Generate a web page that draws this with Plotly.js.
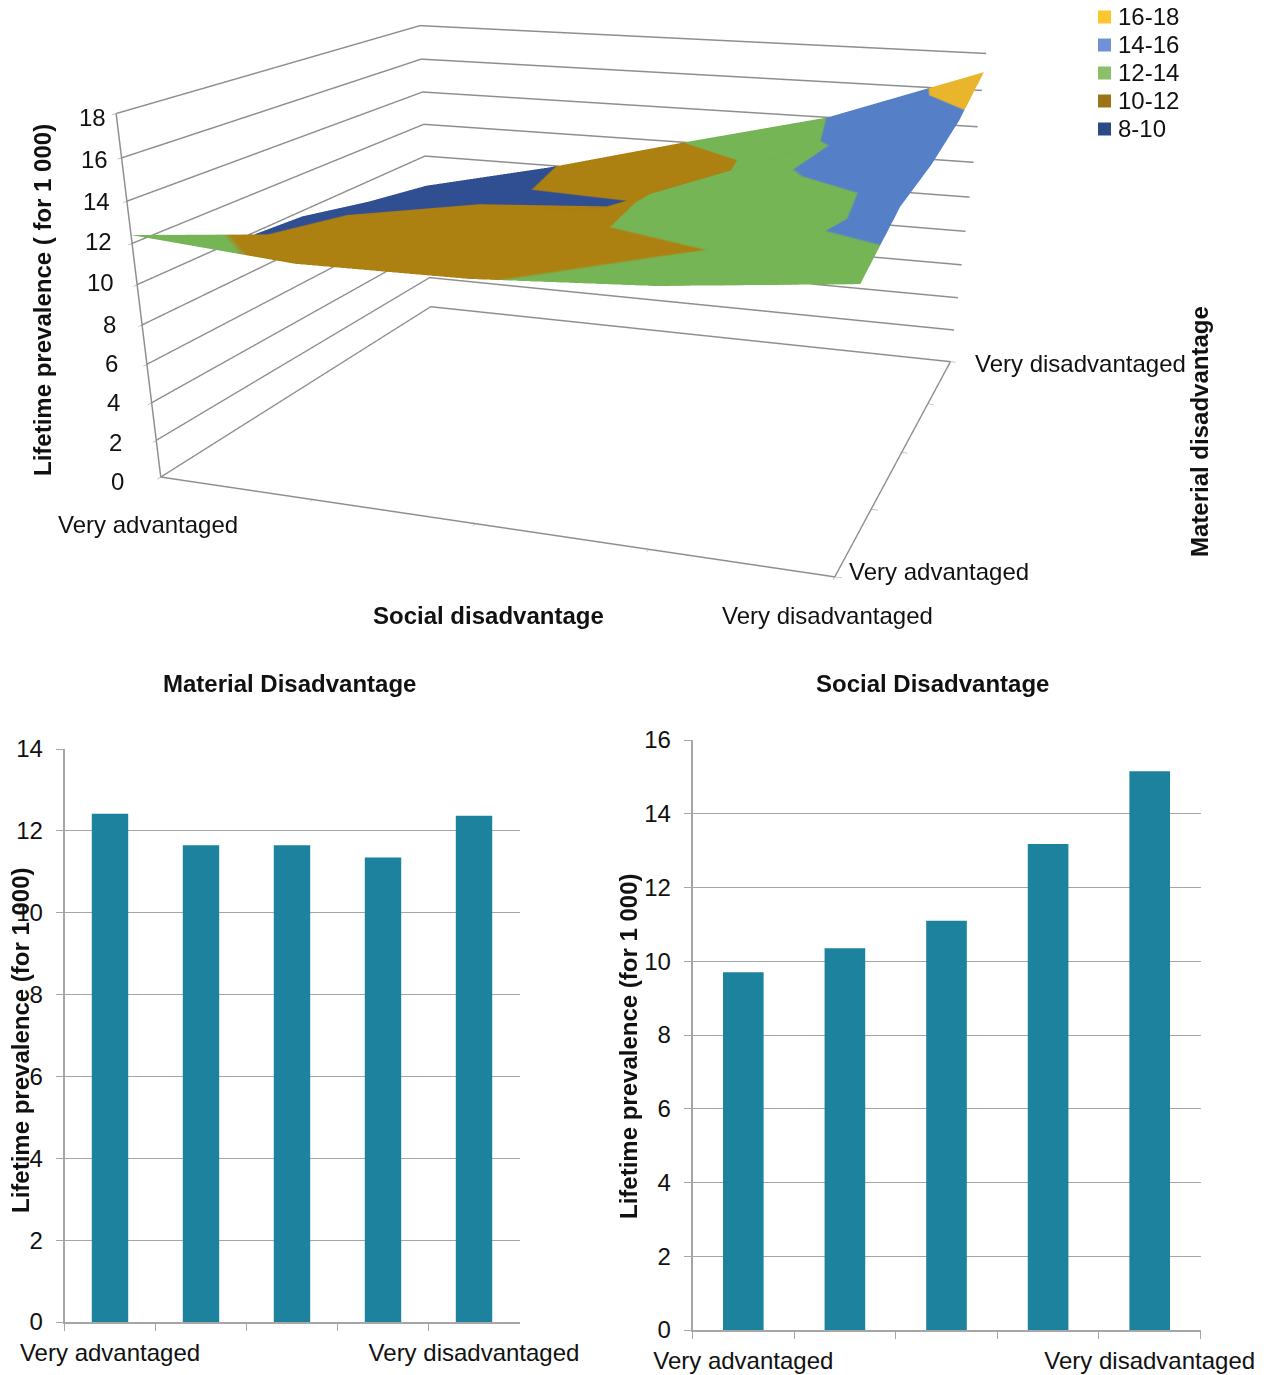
<!DOCTYPE html>
<html><head><meta charset="utf-8">
<script src="https://cdn.plot.ly/plotly-3.0.1.min.js"></script>
<style>html,body{margin:0;padding:0;background:#fff}</style></head>
<body><div id="chart" style="width:1267px;height:1375px"></div>
<script>
const W=1267,H=1375;
const FONT='"Liberation Sans", Arial, sans-serif';
const GRAY='#a6a6a6', GRAY3D='#8e8e8e', INK='#111111', TEAL='#1c829e';
const socialIdx=[0,1,2,3,4];
const materialIdx=[0,1,2,3,4];
const row0=[12.4,11.8,11.9,12.4,13.3];
const row1=[10.0,11.3,11.2,12.0,14.7];
const row2=[9.7,10.6,11.4,13.6,15.0];
const row3=[8.8,9.6,9.9,13.5,15.7];
const row4=[8.1,9.9,12.0,14.0,17.0];
const grid=[row0,row1,row2,row3,row4];
const bandLabels=['16-18','14-16','12-14','10-12','8-10'];
const bandColors=['#e8b52c','#5580c8','#76b555','#ad8012','#304e92'];
const legendColors=['#fcc72e','#6f92d6','#8cc068','#9c7418','#2b4a85'];
const barCats=['a','b','c','d','e'];
const barTickText=['Very advantaged','','','','Very disadvantaged'];
const materialVals=[12.42,11.65,11.65,11.35,12.37];
const socialVals=[9.7,10.35,11.1,13.18,15.15];
const zTicks=[0,2,4,6,8,10,12,14,16,18];

const px=(a,b)=>[a/W,b/W];
const py=(top,bottom)=>[1-bottom/H,1-top/H];
const cs=[];
[4,3,2,1,0].forEach((b,i)=>{cs.push([i/5,bandColors[b]]);cs.push([(i+1)/5,bandColors[b]]);});

const mx=[],my=[],mz=[],ti=[],tj=[],tk=[];
materialIdx.forEach((m,r)=>socialIdx.forEach((s,c)=>{mx.push(s);my.push(m);mz.push(grid[r][c]);}));
for(let r=0;r<4;r++)for(let c=0;c<4;c++){
  const a=r*5+c,b=a+1,d=a+5,e=d+1;
  ti.push(a,a);tj.push(b,e);tk.push(e,d);
}
const surf={type:'mesh3d',x:mx,y:my,z:mz,i:ti,j:tj,k:tk,intensity:mz,cmin:8,cmax:18,colorscale:cs,showscale:false,hoverinfo:'skip',
 flatshading:true,
 lighting:{ambient:0.62,diffuse:0.5,specular:0,roughness:1,fresnel:0,facenormalsepsilon:0},
 lightposition:{x:-2000,y:-1200,z:1500},scene:'scene'};
const bar1={type:'bar',x:barCats,y:materialVals,xaxis:'x',yaxis:'y',marker:{color:TEAL},hoverinfo:'skip'};
const bar2={type:'bar',x:barCats,y:socialVals,xaxis:'x2',yaxis:'y2',marker:{color:TEAL},hoverinfo:'skip'};

function catAxis(dom,anchor){return {domain:dom,anchor,type:'category',categoryorder:'array',categoryarray:barCats,
 tickmode:'array',tickvals:barCats,ticktext:barTickText,tickson:'boundaries',ticks:'outside',ticklen:7,tickcolor:GRAY,ticklabelstandoff:8,
 showgrid:false,showline:true,linecolor:GRAY,linewidth:1.5,tickfont:{family:FONT,size:24,color:INK},tickangle:0,automargin:false,fixedrange:true};}
function valAxis(dom,anchor,max,dt){return {domain:dom,anchor,range:[0,max],dtick:dt,ticks:'outside',ticklen:7,tickcolor:GRAY,ticklabelstandoff:8,
 showgrid:true,gridcolor:GRAY,gridwidth:1.2,showline:true,linecolor:GRAY,linewidth:1.5,zeroline:false,
 tickfont:{family:FONT,size:24,color:INK},automargin:false,fixedrange:true};}

const ann=(x,y,text,o={})=>Object.assign({x:x/W,y:1-y/H,xref:'paper',yref:'paper',text,showarrow:false,xanchor:'center',yanchor:'middle',
  font:{family:FONT,size:o.size||24,color:INK}},o.extra||{});
const B=t=>'<b>'+t+'</b>';
const annotations=[
 ann(289,684,B('Material Disadvantage')),ann(932,684,B('Social Disadvantage')),
 ann(20,1041,B('Lifetime prevalence (for 1 000)'),{extra:{textangle:-90}}),
 ann(628,1047,B('Lifetime prevalence (for 1 000)'),{extra:{textangle:-90}}),
 ann(43,300,B('Lifetime prevalence ( for 1 000)'),{extra:{textangle:-90}}),
 ann(488,616,B('Social disadvantage')),
 ann(1200,432,B('Material disadvantage'),{extra:{textangle:-90}}),
 ann(148,524,'Very advantaged'),ann(828,615,'Very disadvantaged'),
 ann(939,572,'Very advantaged'),ann(1080,364,'Very disadvantaged')
];
const zLabelX=[126,124,122,120,118,116,114,112,110,108];
const zLabelY=[482,443,403,364,324,283,242,201,159,118];
zTicks.forEach((z,i)=>annotations.push(ann(zLabelX[i],zLabelY[i],String(z),{extra:{xanchor:'right'}})));
bandLabels.forEach((t,i)=>annotations.push(ann(1116,17+28*i,t,{extra:{xanchor:'left'}})));
const shapes=bandLabels.map((t,i)=>({type:'rect',xref:'paper',yref:'paper',x0:1098/W,x1:1111/W,y0:1-(23.5+28*i)/H,y1:1-(10.5+28*i)/H,
  fillcolor:legendColors[i],line:{width:0}}));

const ax3=(extra)=>Object.assign({showgrid:false,showline:true,linecolor:GRAY3D,linewidth:3,showbackground:false,zeroline:false,
  showspikes:false,showticklabels:false,title:{text:''}},extra);
const layout={width:W,height:H,margin:{l:0,r:0,t:0,b:0},paper_bgcolor:'#fff',plot_bgcolor:'#fff',showlegend:false,
 annotations,shapes,bargap:0.6,
 xaxis:catAxis(px(64.5,519.5),'y'),yaxis:valAxis(py(749,1322),'x',14,2),
 xaxis2:catAxis(px(692.5,1200.5),'y2'),yaxis2:valAxis(py(740,1330),'x2',16,2),
 scene:{domain:{x:[0,1120/W],y:[0,1]},bgcolor:'rgba(0,0,0,0)',
  aspectmode:'manual',aspectratio:{x:1.496,y:1.436,z:0.764},
  camera:{eye:{x:1.262,y:-3.616,z:0.956},center:{x:0.183,y:-0.710,z:-0.735},up:{x:0,y:0,z:1},projection:{type:'perspective'}},
  xaxis:ax3({range:[0,4],tickmode:'array',tickvals:socialIdx,ticks:'outside',tickcolor:GRAY3D}),
  yaxis:ax3({range:[0,4],tickmode:'array',tickvals:materialIdx,ticks:'outside',tickcolor:GRAY3D}),
  zaxis:ax3({range:[0,18],tickmode:'array',tickvals:zTicks,ticks:'outside',tickcolor:GRAY3D,showgrid:true,gridcolor:GRAY3D,gridwidth:3})
 }};
Plotly.newPlot('chart',[surf,bar1,bar2],layout,{displayModeBar:false});
</script></body></html>
